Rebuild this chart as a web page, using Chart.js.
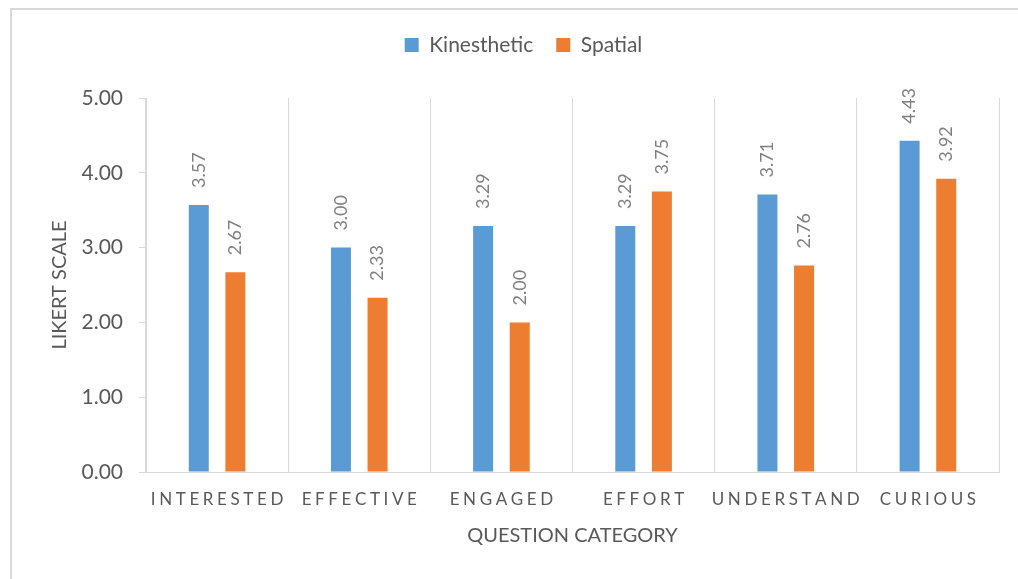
<!DOCTYPE html>
<html>
<head>
<meta charset="utf-8">
<script src="https://cdn.jsdelivr.net/npm/chart.js@4.4.0/dist/chart.umd.min.js"></script>
<style>
  html, body { margin: 0; padding: 0; background: #fff; }
  #wrap { width: 1018px; height: 579px; }
</style>
</head>
<body>
<div id="wrap"><canvas id="chart" width="1018" height="579"></canvas></div>
<script>
// values
const categories = ['INTERESTED', 'EFFECTIVE', 'ENGAGED', 'EFFORT', 'UNDERSTAND', 'CURIOUS'];
const kinesthetic = [3.57, 3.00, 3.29, 3.29, 3.71, 4.43];
const spatial = [2.67, 2.33, 2.00, 3.75, 2.76, 3.92];
const seriesNames = ['Kinesthetic', 'Spatial'];
const yMin = 0;
const yMax = 5;
const yStep = 1;

const textGray = '#595959';
const lineGray = '#d9d9d9';

// light frame round the whole chart
const frame = {
  id: 'frame',
  beforeDraw(chart) {
    const c = chart.ctx;
    c.save();
    c.strokeStyle = lineGray;
    c.lineWidth = 2;
    c.strokeRect(11, 9, 1200, 800);
    c.restore();
  }
};

// extra room under the legend
const legendGap = {
  id: 'legendGap',
  beforeInit(chart) {
    const fit = chart.legend.fit;
    chart.legend.fit = function () {
      fit.call(this);
      this.height += 32.5;
    };
  }
};

// rotated value labels above each bar
const valueLabels = {
  id: 'valueLabels',
  afterDatasetsDraw(chart) {
    const c = chart.ctx;
    c.save();
    c.font = '18px Lato';
    c.fillStyle = '#7f7f7f';
    c.textAlign = 'left';
    c.textBaseline = 'middle';
    chart.data.datasets.forEach((ds, di) => {
      chart.getDatasetMeta(di).data.forEach((bar, i) => {
        c.save();
        c.translate(bar.x, bar.y - 17);
        c.rotate(-Math.PI / 2);
        c.fillText(ds.data[i].toFixed(2), 0, 0);
        c.restore();
      });
    });
    c.restore();
  }
};

// category labels with wide letter spacing
const spacedLabels = {
  id: 'spacedLabels',
  afterDraw(chart) {
    const x = chart.scales.x;
    const c = chart.ctx;
    const gap = 3.6;
    c.save();
    c.font = '17px Lato';
    c.fillStyle = textGray;
    c.textAlign = 'left';
    c.textBaseline = 'middle';
    categories.forEach((label, i) => {
      const chars = label.split('');
      const widths = chars.map(ch => c.measureText(ch).width);
      const total = widths.reduce((a, b) => a + b, 0) + gap * (chars.length - 1);
      let px = x.getPixelForTick(i) - total / 2;
      chars.forEach((ch, k) => {
        c.fillText(ch, px, x.top + 28);
        px += widths[k] + gap;
      });
    });
    c.restore();
  }
};

new Chart(document.getElementById('chart'), {
  type: 'bar',
  data: {
    labels: categories,
    datasets: [
      { label: seriesNames[0], data: kinesthetic, backgroundColor: '#5b9bd5', borderWidth: 0 },
      { label: seriesNames[1], data: spatial, backgroundColor: '#ed7d31', borderWidth: 0 }
    ]
  },
  options: {
    responsive: false,
    animation: false,
    categoryPercentage: 0.515,
    barPercentage: 0.546,
    layout: { padding: { top: 11.5, left: 48, right: 19, bottom: 0 } },
    plugins: {
      tooltip: { enabled: false },
      legend: {
        position: 'top',
        labels: {
          boxWidth: 14,
          boxHeight: 14,
          padding: 23,
          color: textGray,
          font: { family: 'Lato', size: 21 }
        }
      }
    },
    scales: {
      x: {
        grid: { offset: true, color: lineGray, drawTicks: false },
        border: { color: lineGray },
        ticks: { display: false },
        title: {
          display: true,
          text: 'QUESTION CATEGORY',
          color: textGray,
          font: { family: 'Lato', size: 20 },
          padding: { top: 0, bottom: 31 }
        },
        afterFit(scale) { scale.height = 107; }
      },
      y: {
        min: yMin,
        max: yMax,
        grid: { drawOnChartArea: false, color: lineGray, tickLength: 7 },
        border: { color: lineGray },
        ticks: {
          stepSize: yStep,
          padding: 16,
          color: textGray,
          font: { family: 'Lato', size: 21 },
          callback: v => v.toFixed(2)
        },
        title: {
          display: true,
          text: 'LIKERT SCALE',
          color: textGray,
          font: { family: 'Lato', size: 20 },
          padding: { top: 0, bottom: 0 }
        },
        afterFit(scale) { scale.width = 98; }
      }
    }
  },
  plugins: [frame, legendGap, valueLabels, spacedLabels]
});
</script>
</body>
</html>
